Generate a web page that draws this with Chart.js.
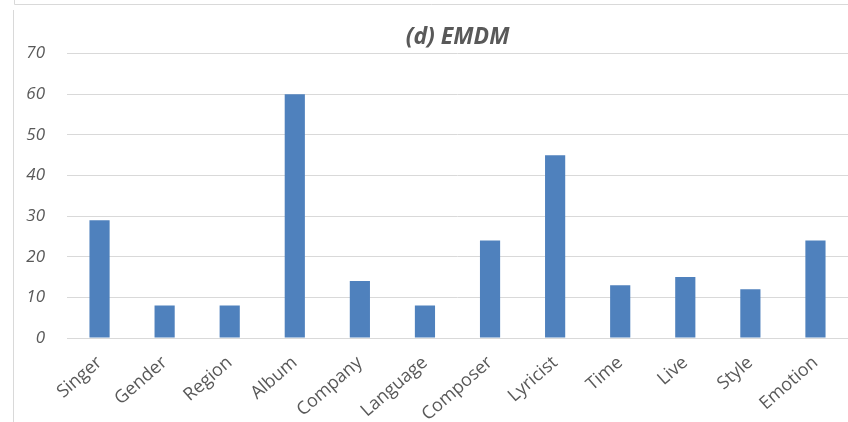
<!DOCTYPE html>
<html>
<head>
<meta charset="utf-8">
<script src="https://cdn.jsdelivr.net/npm/chart.js@4.4.0/dist/chart.umd.min.js"></script>
<style>
  body { margin: 0; background: #fff; }
  #wrap { width: 848px; height: 422px; }
</style>
</head>
<body>
<div id="wrap"><canvas id="myChart" width="848" height="422"></canvas></div>
<script>
// categorie e valori
const categories = ['Singer', 'Gender', 'Region', 'Album', 'Company', 'Language',
  'Composer', 'Lyricist', 'Time', 'Live', 'Style', 'Emotion'];
const counts = [29, 8, 8, 60, 14, 8, 24, 45, 13, 15, 12, 24];
const yTicks = [0, 10, 20, 30, 40, 50, 60, 70];

/* cornice grigia come nell'originale */
const frame = {
  id: 'frame',
  beforeDraw(chart) {
    const c = chart.ctx;
    c.save();
    c.strokeStyle = '#d9d9d9';
    c.lineWidth = 1;
    c.beginPath();
    c.moveTo(14.5, 0); c.lineTo(14.5, 4.5); c.lineTo(848, 4.5);
    c.moveTo(13.5, 10); c.lineTo(13.5, 422);
    c.stroke();
    c.restore();
  }
};

const ctx = document.getElementById('myChart').getContext('2d');
const myChart = new Chart(ctx, {
  type: 'bar',
  data: {
    labels: categories,
    datasets: [{
      data: counts,
      backgroundColor: '#4f81bd',
      borderWidth: 0,
      barPercentage: 0.31,
      categoryPercentage: 1
    }]
  },
  options: {
    responsive: false,
    animation: false,
    layout: { padding: { top: 24, right: 0, left: 0, bottom: 0 } },
    plugins: {
      legend: { display: false },
      tooltip: { enabled: false },
      title: {
        display: true,
        fullSize: false,
        text: '(d) EMDM',
        color: '#595959',
        font: { family: 'Open Sans', size: 23, weight: 'bold', style: 'italic' },
        padding: { top: 0, bottom: 2 }
      }
    },
    scales: {
      x: {
        grid: { display: false, drawTicks: false },
        border: { color: '#d9d9d9' },
        ticks: {
          color: '#595959',
          font: { family: 'Open Sans', size: 18 },
          maxRotation: 41, minRotation: 41,
          padding: 14,
          autoSkip: false
        },
        afterFit(scale) { scale.height = 84; }
      },
      y: {
        min: 0, max: 70,
        afterBuildTicks(scale) { scale.ticks = yTicks.map(v => ({ value: v })); },
        grid: { color: '#d9d9d9', drawTicks: false },
        border: { display: false },
        ticks: {
          color: '#595959',
          font: { family: 'Open Sans', size: 17, style: 'italic' },
          padding: 22
        },
        afterFit(scale) { scale.width = 67; }
      }
    }
  },
  plugins: [frame]
});
</script>
</body>
</html>
